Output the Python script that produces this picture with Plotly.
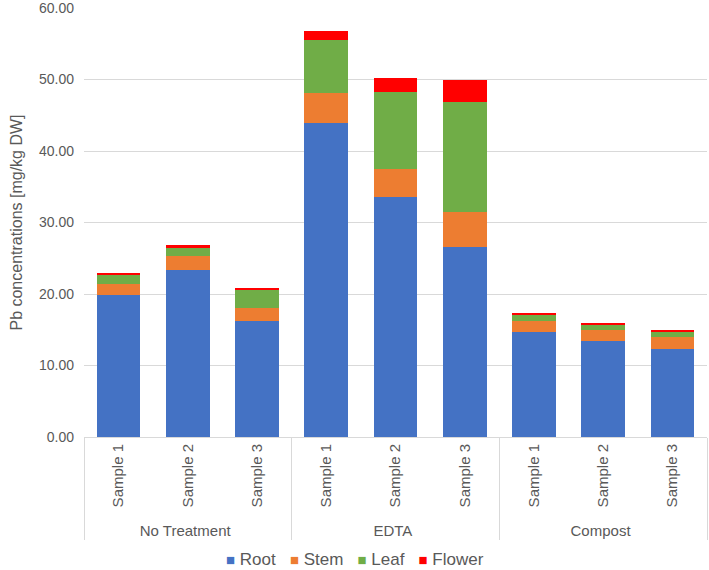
import plotly.graph_objects as go

treatments = ["No Treatment", "No Treatment", "No Treatment", "EDTA", "EDTA", "EDTA", "Compost", "Compost", "Compost"]
samples = ["Sample 1", "Sample 2", "Sample 3"] * 3

root = [19.8, 23.4, 16.2, 43.9, 33.5, 26.6, 14.7, 13.4, 12.3]
stem = [1.6, 1.9, 1.8, 4.2, 4.0, 4.9, 1.5, 1.6, 1.7]
leaf = [1.2, 1.2, 2.6, 7.4, 10.8, 15.4, 0.8, 0.6, 0.7]
flower = [0.3, 0.3, 0.3, 1.3, 1.9, 3.0, 0.3, 0.3, 0.2]

series_names = ["Root", "Stem", "Leaf", "Flower"]
series_colors = ["#4472C4", "#ED7D31", "#70AD47", "#FF0000"]
series_values = [root, stem, leaf, flower]

fig = go.Figure()
for name, vals, col in zip(series_names, series_values, series_colors):
    fig.add_trace(go.Bar(x=[treatments, samples], y=vals, name=name,
                         marker=dict(color=col, line=dict(width=0))))

T, B = 8, 133
plot_h = 570 - T - B

# compact legend, Excel-like
legend_text = "   ".join(
    f"<span style='color:{c};font-size:15px'>■</span> {n}" for n, c in zip(series_names, series_colors)
)
fig.add_annotation(text=legend_text, xref="paper", yref="paper",
                   x=(354.5 - 84) / 623, y=-(559 - (570 - B)) / plot_h,
                   xanchor="center", yanchor="middle", showarrow=False,
                   font=dict(size=17, color="#595959", family="Liberation Sans"))

fig.update_layout(
    barmode="stack", bargap=0.37,
    width=709, height=570,
    margin=dict(l=84, r=2, t=T, b=B),
    plot_bgcolor="white", paper_bgcolor="white",
    font=dict(family="Liberation Sans", color="#595959", size=14),
    showlegend=False,
    yaxis=dict(range=[0, 60], dtick=10, tickformat=".2f", gridcolor="#d9d9d9",
               zeroline=False, showline=False, ticks="", ticklabeloverflow="allow",
               ticklabelstandoff=9, automargin=False,
               tickfont=dict(size=14),
               title=dict(text="Pb concentrations [mg/kg DW]", font=dict(size=16), standoff=12)),
    xaxis=dict(type="multicategory", tickangle=-90, showline=True, linecolor="#d9d9d9",
               showdividers=True, dividercolor="#d9d9d9", dividerwidth=1,
               automargin=False, tickfont=dict(size=15)),
)

fig.write_html("out.html", config={"displayModeBar": False},
               post_script="document.body.style.margin='0';")
